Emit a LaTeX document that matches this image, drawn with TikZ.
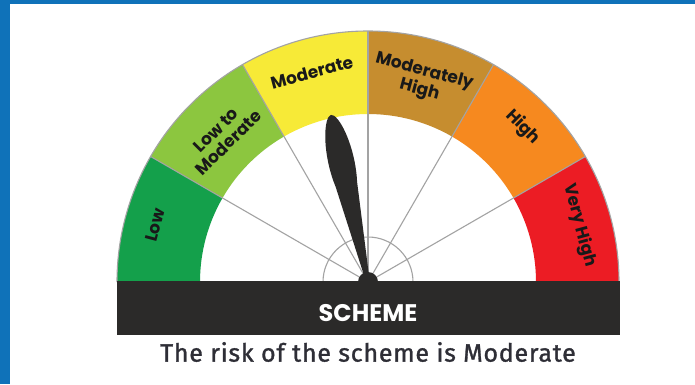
\documentclass[tikz,border=0pt]{standalone}
\usepackage{fontspec}
\newfontfamily\labfont{Poppins}
\newfontfamily\schemefont{Poppins}
\newfontfamily\capfont{Fira Sans}[LetterSpace=3,FakeBold=1.2]
\definecolor{bordblue}{HTML}{0F72B9}
\definecolor{cLow}{HTML}{14A04B}
\definecolor{cLM}{HTML}{8CC63F}
\definecolor{cMod}{HTML}{F7EA37}
\definecolor{cMH}{HTML}{C68D2F}
\definecolor{cHigh}{HTML}{F6891F}
\definecolor{cVH}{HTML}{EC1C24}
\definecolor{barcol}{HTML}{2B2A29}
\definecolor{capcol}{HTML}{2E2E36}
\definecolor{gline}{HTML}{A3A3A3}
\tikzset{
  lab/.style={font=\labfont\bfseries\fontsize{17}{18}\selectfont, text=black!90, align=center, inner sep=0pt},
  grayline/.style={draw=gline, line width=1.1pt},
}
\begin{document}
\begin{tikzpicture}[x=1pt,y=1pt]
\useasboundingbox (0,0) rectangle (695,384);
\fill[white] (0,0) rectangle (695,384);
\fill[bordblue] (0,0) rectangle (9.5,384);
\fill[bordblue] (0,380) rectangle (695,384);
\coordinate (c) at (368,102);
% colored bands
\foreach \col [count=\i from 0] in {cLow,cLM,cMod,cMH,cHigh,cVH} {
  \pgfmathsetmacro\aa{180-30*\i}
  \pgfmathsetmacro\ab{150-30*\i}
  \fill[\col] ([shift={(\aa:251)}]c) arc[start angle=\aa, end angle=\ab, radius=251]
     -- ([shift={(\ab:168)}]c) arc[start angle=\ab, end angle=\aa, radius=168] -- cycle;
}
% outer border and dividers
\draw[grayline] ([shift={(180:251)}]c) arc[start angle=180, end angle=0, radius=251];
\foreach \a in {30,60,90,120,150} {
  \coordinate (d\a) at ([shift={(\a:251)}]c);
  \draw[grayline] (c) -- (d\a);
}
\draw[grayline] ([shift={(180:45)}]c) arc[start angle=180, end angle=0, radius=45];
% needle
\begin{scope}[shift={(c)}, rotate=12.5]
  \fill[barcol] (-1.8,0) -- (-11,100) .. controls (-16,128) and (-11,160) .. (-3,169.5)
     .. controls (-1.2,171.8) and (1.2,171.8) .. (3,169.5)
     .. controls (11,160) and (16,128) .. (11,100) -- (1.8,0) -- cycle;
\end{scope}
\fill[barcol] (c) circle (10);
% bar
\fill[barcol] (116.5,49) rectangle (620,103);
\node[font=\schemefont\bfseries\fontsize{24}{26}\selectfont, text=white] (scheme) at (368,70.5) {SCHEME};
\node[font=\capfont\fontsize{25}{26}\selectfont, text=capcol] (caption) at (368,32) {The risk of the scheme is Moderate};
% labels
\node[lab, rotate=75] (lLow) at ([shift={(165:220)}]c) {Low};
\node[lab, rotate=45] (lLM) at ([shift={(135:206)}]c) {Low to\\Moderate};
\node[lab, rotate=15] (lMod) at ([shift={(105:217)}]c) {Moderate};
\node[lab, rotate=-15] (lMH) at ([shift={(75:208)}]c) {Moderately\\High};
\node[lab, rotate=-45] (lHigh) at ([shift={(45:219)}]c) {High};
\node[lab, rotate=-75] (lVH) at ([shift={(15:219)}]c) {Very High};
\end{tikzpicture}
\end{document}
